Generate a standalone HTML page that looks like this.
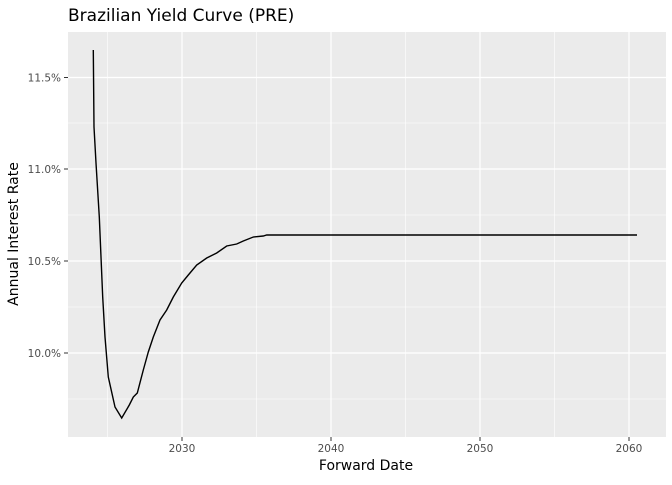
<!DOCTYPE html>
<html><head><style>body{margin:0;background:#fff}</style></head><body>
<svg width="672" height="480" xmlns="http://www.w3.org/2000/svg" font-family="DejaVu Sans, sans-serif">
<rect x="68" y="32" width="598" height="405" fill="#ebebeb"/>
<g stroke="#fff" stroke-width="0.6">
<line x1="68" x2="666" y1="123" y2="123"/><line x1="68" x2="666" y1="215" y2="215"/><line x1="68" x2="666" y1="307" y2="307"/><line x1="68" x2="666" y1="399" y2="399"/>
<line y1="32" y2="437" x1="107.5" x2="107.5"/><line y1="32" y2="437" x1="256.5" x2="256.5"/><line y1="32" y2="437" x1="405.5" x2="405.5"/><line y1="32" y2="437" x1="554.5" x2="554.5"/>
</g>
<g stroke="#fff" stroke-width="1.2">
<line x1="68" x2="666" y1="77.5" y2="77.5"/><line x1="68" x2="666" y1="169" y2="169"/><line x1="68" x2="666" y1="261" y2="261"/><line x1="68" x2="666" y1="353" y2="353"/>
<line y1="32" y2="437" x1="182" x2="182"/><line y1="32" y2="437" x1="331" x2="331"/><line y1="32" y2="437" x1="480" x2="480"/><line y1="32" y2="437" x1="629" x2="629"/>
</g>
<g stroke="#333" stroke-width="1">
<line x1="64" x2="68" y1="77.5" y2="77.5"/><line x1="64" x2="68" y1="169" y2="169"/><line x1="64" x2="68" y1="261" y2="261"/><line x1="64" x2="68" y1="353" y2="353"/>
<line y1="437" y2="441" x1="182" x2="182"/><line y1="437" y2="441" x1="331" x2="331"/><line y1="437" y2="441" x1="480" x2="480"/><line y1="437" y2="441" x1="629" x2="629"/>
</g>
<polyline fill="none" stroke="#000" stroke-width="1.4" points="93.3,50 94,127 96,163 99.3,217 102.7,297 105,337 108.3,377 115,407 121.7,418 129.3,405 133.3,397 137.3,393 143.3,370 148.3,352 153.3,337 160,320 166.7,310 173.3,297 181.7,283 188.3,275 196.7,265 206.7,258 216.7,253 226.7,246 236.7,244 243.3,241 253.3,237 263.3,236 266.7,235 637,235"/>
<g font-size="10.5" fill="#4d4d4d" text-anchor="end">
<text x="61" y="81.5">11.5%</text><text x="61" y="173">11.0%</text><text x="61" y="265">10.5%</text><text x="61" y="357">10.0%</text>
</g>
<g font-size="10.5" fill="#4d4d4d" text-anchor="middle">
<text x="182" y="452">2030</text><text x="331" y="452">2040</text><text x="480" y="452">2050</text><text x="629" y="452">2060</text>
</g>
<text x="366" y="470" font-size="14" text-anchor="middle" fill="#000">Forward Date</text>
<text transform="translate(18,234) rotate(-90)" font-size="14" text-anchor="middle" fill="#000">Annual Interest Rate</text>
<text x="68" y="21" font-size="17" fill="#000">Brazilian Yield Curve (PRE)</text>
</svg>
</body></html>
